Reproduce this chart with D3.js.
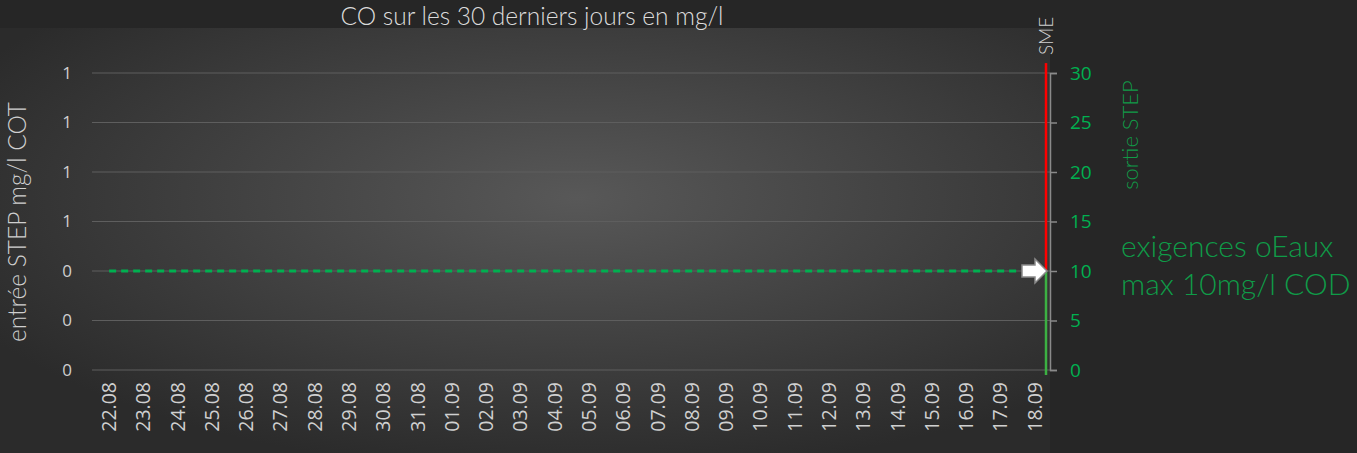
<!DOCTYPE html>
<html lang="fr">
<head>
<meta charset="UTF-8">
<title>CO sur les 30 derniers jours</title>
<style>
  body { margin: 0; background: #262626; }
  svg { display: block; }
  .title, .ytitle { font-family: "Lato", "Open Sans", sans-serif; font-weight: 300; }
  .tick text { font-family: "Open Sans", sans-serif; }
</style>
<script src="https://d3js.org/d3.v7.min.js"></script>
</head>
<body>
<script>
// data
const dates = ["22.08","23.08","24.08","25.08","26.08","27.08","28.08","29.08","30.08","31.08",
  "01.09","02.09","03.09","04.09","05.09","06.09","07.09","08.09","09.09","10.09",
  "11.09","12.09","13.09","14.09","15.09","16.09","17.09","18.09"];
const limitValues = dates.map(() => 10);       // exigences oEaux, mg/l COD
const leftTickValues = [0, 1, 2, 3, 4, 5, 6];
const leftTickLabels = ["0", "0", "0", "1", "1", "1", "1"];
const rightTicks = [0, 5, 10, 15, 20, 25, 30];
const smeOk = [0, 10];      // green part of SME bar
const smeOver = [10, 31];   // red part of SME bar

const W = 1357, H = 453;
const svg = d3.select("body").append("svg").attr("width", W).attr("height", H);

const defs = svg.append("defs");
const grad = defs.append("radialGradient").attr("id", "bg")
  .attr("cx", "0.55").attr("cy", "0.4").attr("r", "0.65");
grad.append("stop").attr("offset", "0%").attr("stop-color", "#585858");
grad.append("stop").attr("offset", "100%").attr("stop-color", "#2b2b2b");

svg.append("rect").attr("width", W).attr("height", H).attr("fill", "#262626");
svg.append("rect").attr("x", 0).attr("y", 28).attr("width", 1050).attr("height", H - 28)
  .attr("fill", "url(#bg)");

const x = d3.scaleBand().domain(dates).range([92, 1052]);
const yL = d3.scaleLinear().domain([0, 6]).range([370, 73]);
const yR = d3.scaleLinear().domain([0, 30]).range([370, 73]);

// grid
svg.append("g").selectAll("line").data(leftTickValues).join("line")
  .attr("x1", 92).attr("x2", 1050)
  .attr("y1", d => yL(d)).attr("y2", d => yL(d))
  .attr("stroke", "#5e5e5e").attr("stroke-width", 1.2);

// left axis
const gl = svg.append("g").attr("transform", "translate(92,0)")
  .call(d3.axisLeft(yL).tickValues(leftTickValues).tickSize(0).tickPadding(20)
    .tickFormat((d, i) => leftTickLabels[i]));
gl.select(".domain").remove();
gl.selectAll("text").style("fill", "#cfcfcf").style("font-size", "17px");

// bottom axis
const gb = svg.append("g").attr("transform", "translate(0,370)")
  .call(d3.axisBottom(x).tickSize(0).tickPadding(0));
gb.select(".domain").remove();
gb.selectAll("text")
  .style("fill", "#d0d0d0").style("font-size", "19.5px")
  .attr("transform", "rotate(-90)")
  .attr("text-anchor", "end").attr("dy", "0.35em")
  .attr("x", -12).attr("y", 0);

// right axis
const gr = svg.append("g").attr("transform", "translate(1050,0)")
  .call(d3.axisRight(yR).tickValues(rightTicks).tickSize(7).tickPadding(13));
gr.select(".domain").attr("stroke", "#8a8a8a").attr("stroke-width", 1.5);
gr.selectAll(".tick line").attr("stroke", "#8a8a8a").attr("stroke-width", 1.5);
gr.selectAll("text").style("fill", "#00b050").style("font-size", "19px");

// dashed limit line, ends just before the arrow
const lastX = x(dates[dates.length - 1]) + x.bandwidth() / 2 - 15;
const limitPts = dates.map((d, i) => [x(d) + x.bandwidth() / 2, yR(limitValues[i])]);
limitPts[limitPts.length - 1][0] = lastX;
svg.append("path")
  .attr("d", d3.line()(limitPts))
  .attr("fill", "none").attr("stroke", "#00b050").attr("stroke-width", 3)
  .attr("stroke-dasharray", "7,5");

// SME bar
const smeX = 1046;
svg.append("line").attr("x1", smeX).attr("x2", smeX)
  .attr("y1", yR(smeOver[0])).attr("y2", yR(smeOver[1]))
  .attr("stroke", "#ff0000").attr("stroke-width", 2.5);
svg.append("line").attr("x1", smeX).attr("x2", smeX)
  .attr("y1", yR(smeOk[0]) + 5).attr("y2", yR(smeOk[1]))
  .attr("stroke", "#3cb043").attr("stroke-width", 2.5);
svg.append("text").attr("class", "ytitle")
  .attr("transform", `translate(${smeX + 7},${yR(smeOver[1]) - 8}) rotate(-90)`)
  .attr("fill", "#d0d0d0").attr("font-size", 19).text("SME");

// arrow
const ay = yR(10), ax = 1047;
svg.append("path")
  .attr("d", `M${ax},${ay} L${ax - 12},${ay - 12} L${ax - 12},${ay - 6} L${ax - 25},${ay - 6} L${ax - 25},${ay + 6} L${ax - 12},${ay + 6} L${ax - 12},${ay + 12} Z`)
  .attr("fill", "#ffffff").attr("stroke", "#8a8a8a").attr("stroke-width", 1.5);

// titles
svg.append("text").attr("class", "title")
  .attr("x", 532).attr("y", 25).attr("text-anchor", "middle")
  .attr("fill", "#dcdcdc").attr("font-size", 24.5)
  .text("CO sur les 30 derniers jours en mg/l");

svg.append("text").attr("class", "ytitle")
  .attr("transform", "translate(26,222) rotate(-90)")
  .attr("text-anchor", "middle").attr("fill", "#cfcfcf").attr("font-size", 24.5)
  .text("entrée STEP mg/l COT");

svg.append("text").attr("class", "ytitle")
  .attr("transform", "translate(1138,135) rotate(-90)")
  .attr("text-anchor", "middle").attr("fill", "#119b48").attr("font-size", 22)
  .text("sortie STEP");

const note = svg.append("text").attr("class", "ytitle")
  .attr("fill", "#0f9b48").attr("font-size", 30);
note.append("tspan").attr("x", 1121).attr("y", 257).text("exigences oEaux");
note.append("tspan").attr("x", 1121).attr("y", 295).text("max 10mg/l COD");
</script>
</body>
</html>
